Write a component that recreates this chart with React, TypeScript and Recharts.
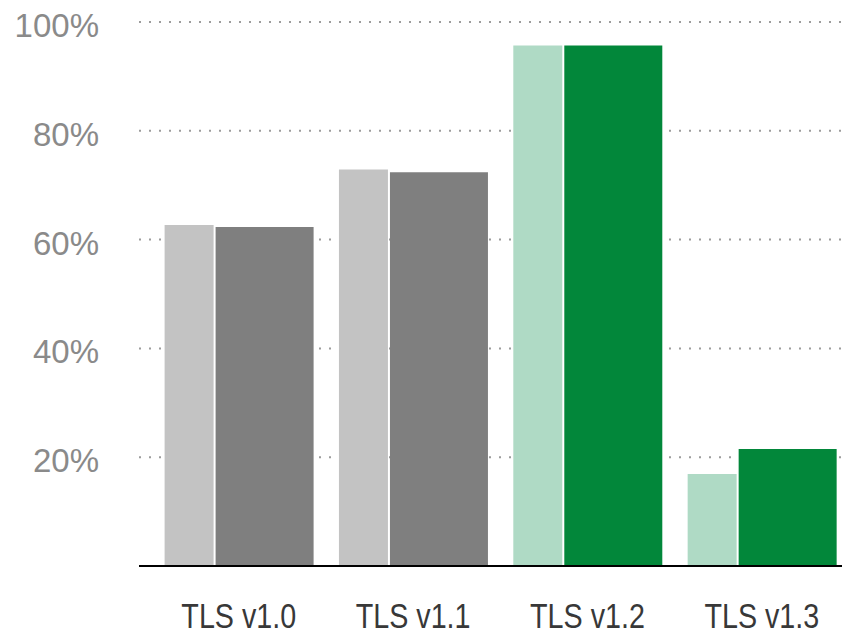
import React from "react";
import { BarChart, Bar, XAxis, YAxis, CartesianGrid, Cell } from "recharts";

const categories = ["TLS v1.0", "TLS v1.1", "TLS v1.2", "TLS v1.3"];
const lightValues = [62.7, 72.9, 95.7, 16.9];
const darkValues = [62.3, 72.4, 95.7, 21.5];
const yTicks = [20, 40, 60, 80, 100];
const lightColors = ["#c3c3c3", "#c3c3c3", "#afdac5", "#afdac5"];
const darkColors = ["#7f7f7f", "#7f7f7f", "#02873a", "#02873a"];

const data = categories.map((name, i) => ({
  name,
  light: lightValues[i],
  dark: darkValues[i],
}));

const XTick = (props: any) => {
  const { x, y, payload } = props;
  return (
    <text
      transform={`translate(${x},${y + 62}) scale(0.82,1)`}
      textAnchor="middle"
      fill="#383838"
      fontSize={35}
      fontFamily="'Liberation Sans', Arial, sans-serif"
    >
      {payload.value}
    </text>
  );
};

const YTick = (props: any) => {
  const { x, y, payload } = props;
  return (
    <text
      x={x}
      y={y + 15}
      textAnchor="end"
      fill="#8a8a8a"
      fontSize={33}
      fontFamily="'Liberation Sans', Arial, sans-serif"
    >
      {payload.value}%
    </text>
  );
};

export default function App() {
  return (
    <div
      style={{
        position: "absolute",
        left: 0,
        top: 0,
        width: 842,
        height: 635,
        overflow: "hidden",
        background: "#fff",
      }}
    >
      <BarChart
        width={849}
        height={635}
        data={data}
        margin={{ top: 22, right: 0, bottom: 0, left: 0 }}
        barGap={2}
      >
        <CartesianGrid
          vertical={false}
          stroke="#9c9c9c"
          strokeWidth={2}
          strokeDasharray="2 8"
        />
        <XAxis
          dataKey="name"
          height={69}
          padding={{ left: 12.6, right: 0 }}
          axisLine={{ stroke: "#000", strokeWidth: 2 }}
          tickLine={false}
          tickSize={0}
          tickMargin={0}
          tick={<XTick />}
          interval={0}
        />
        <YAxis
          width={139}
          domain={[0, 100]}
          ticks={yTicks}
          axisLine={false}
          tickLine={false}
          tickSize={0}
          tickMargin={40}
          tick={<YTick />}
        />
        <Bar dataKey="light" barSize={49} isAnimationActive={false}>
          {data.map((_, i) => (
            <Cell key={i} fill={lightColors[i]} />
          ))}
        </Bar>
        <Bar dataKey="dark" barSize={98} isAnimationActive={false}>
          {data.map((_, i) => (
            <Cell key={i} fill={darkColors[i]} />
          ))}
        </Bar>
      </BarChart>
    </div>
  );
}
